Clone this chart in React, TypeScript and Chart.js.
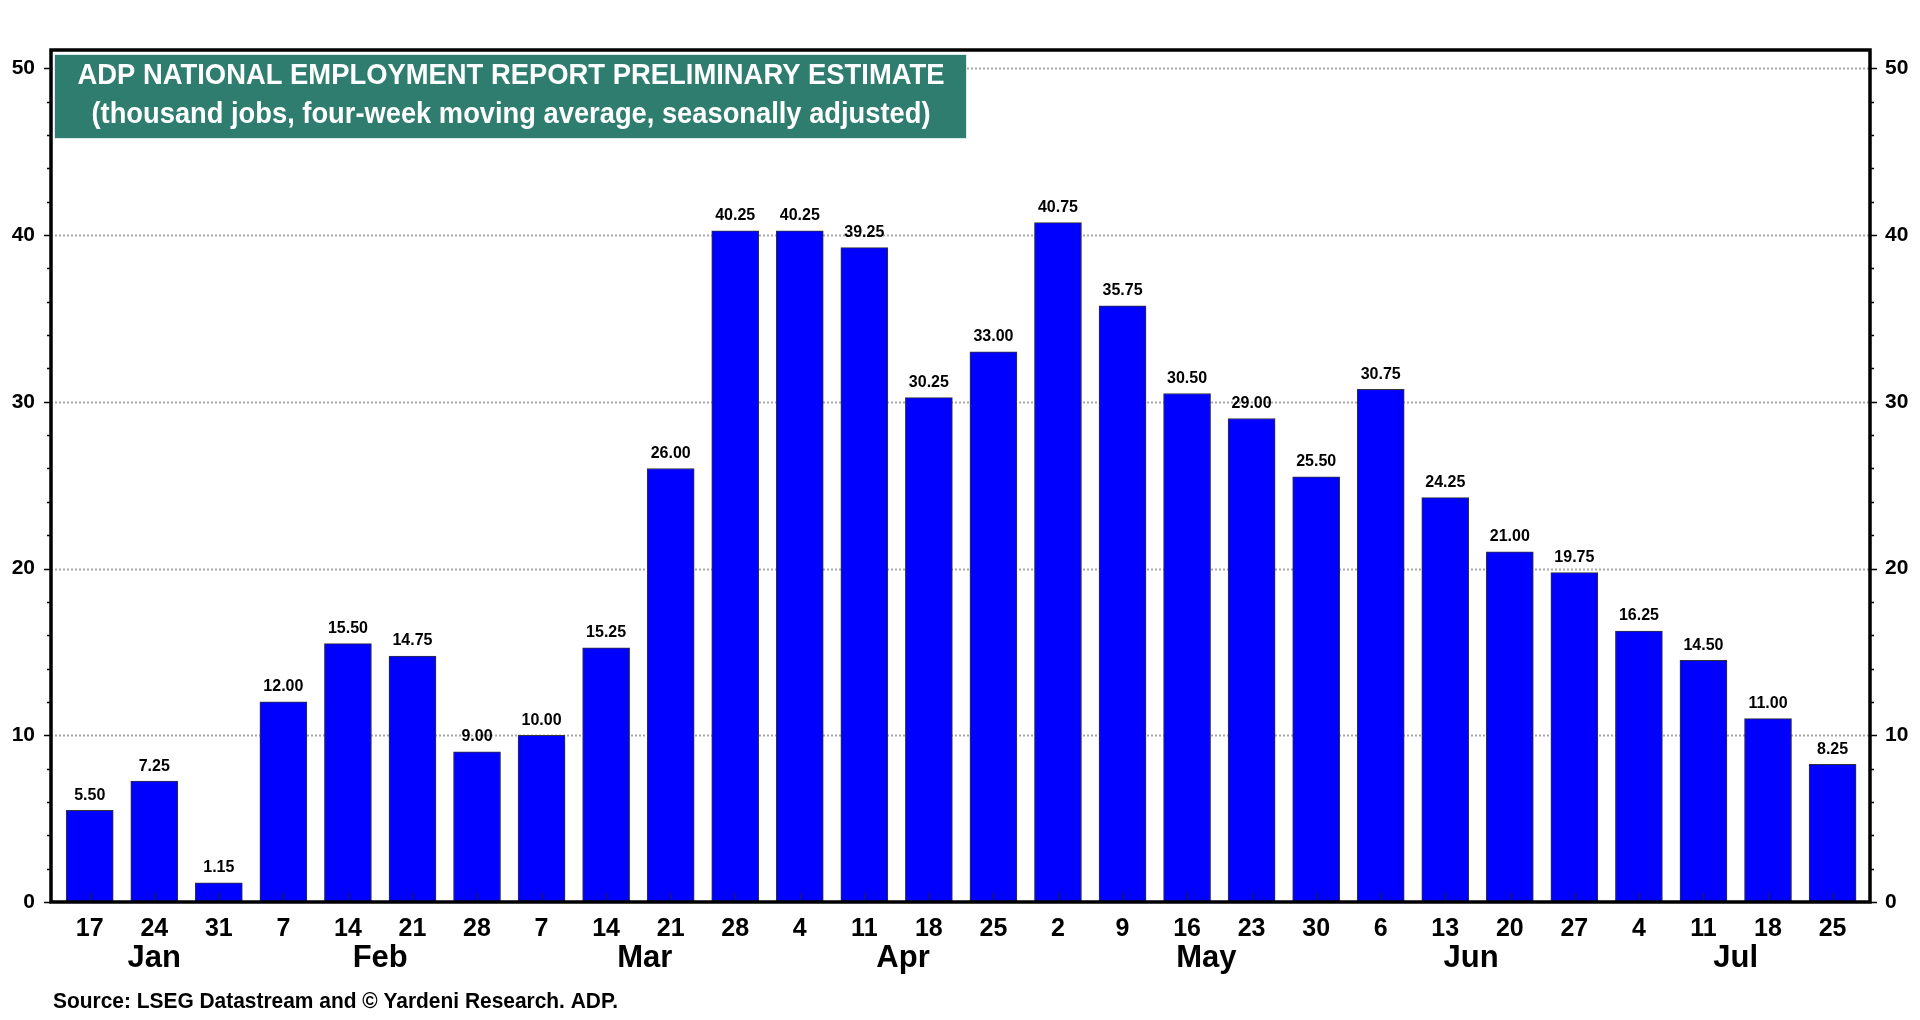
import React, { useEffect, useRef } from 'react';
import { Chart, registerables } from 'chart.js';

Chart.register(...registerables);

const days = ['17', '24', '31', '7', '14', '21', '28', '7', '14', '21', '28', '4', '11', '18', '25', '2', '9', '16', '23', '30', '6', '13', '20', '27', '4', '11', '18', '25'];
const values = [5.5, 7.25, 1.15, 12.0, 15.5, 14.75, 9.0, 10.0, 15.25, 26.0, 40.25, 40.25, 39.25, 30.25, 33.0, 40.75, 35.75, 30.5, 29.0, 25.5, 30.75, 24.25, 21.0, 19.75, 16.25, 14.5, 11.0, 8.25];
const months = ['Jan', 'Feb', 'Mar', 'Apr', 'May', 'Jun', 'Jul'];
const monthAnchors = [1, 4.5, 8.6, 12.6, 17.3, 21.4, 25.5];
const yTicks = [0, 10, 20, 30, 40, 50];
const titleLines = [
  'ADP NATIONAL EMPLOYMENT REPORT PRELIMINARY ESTIMATE',
  '(thousand jobs, four-week moving average, seasonally adjusted)',
];
const sourceText = 'Source: LSEG Datastream and \u00A9 Yardeni Research. ADP.';

const NARROW = '"Liberation Sans Narrow", "Arial Narrow", "Liberation Sans", Arial, sans-serif';
const WIDE = '"Liberation Sans", Arial, sans-serif';

function drawFitted(ctx: CanvasRenderingContext2D, text: string, x: number, y: number, w: number, font: string, align: 'center' | 'left') {
  ctx.save();
  ctx.font = font;
  const m = ctx.measureText(text).width;
  const s = w / m;
  ctx.translate(x, y);
  ctx.scale(s, 1);
  ctx.textAlign = align;
  ctx.textBaseline = 'middle';
  ctx.fillText(text, 0, 0);
  ctx.restore();
}

const decorPlugin = {
  id: 'decor',
  beforeDatasetsDraw(chart: any) {
    const { ctx, chartArea: a } = chart;
    const y = chart.scales.y;
    ctx.save();
    ctx.strokeStyle = '#a8a8a8';
    ctx.lineWidth = 2;
    ctx.setLineDash([2, 2]);
    for (const v of yTicks) {
      if (v === 0) continue;
      const py = Math.round(y.getPixelForValue(v)) + 0.5;
      ctx.beginPath();
      ctx.moveTo(a.left, py);
      ctx.lineTo(a.right, py);
      ctx.stroke();
    }
    ctx.restore();
  },
  afterDatasetsDraw(chart: any) {
    const { ctx, chartArea: a } = chart;
    const x = chart.scales.x;
    const y = chart.scales.y;
    ctx.save();
    // inner x ticks
    ctx.strokeStyle = '#222';
    ctx.lineWidth = 1;
    days.forEach((_, i) => {
      const px = Math.round(x.getPixelForValue(i)) + 0.5;
      ctx.beginPath();
      ctx.moveTo(px, a.bottom);
      ctx.lineTo(px, a.bottom - 9);
      ctx.stroke();
    });
    // data labels
    const meta = chart.getDatasetMeta(0);
    ctx.fillStyle = '#000';
    ctx.font = `bold 16px ${NARROW}`;
    ctx.textAlign = 'center';
    ctx.textBaseline = 'middle';
    meta.data.forEach((bar: any, i: number) => {
      ctx.fillText(values[i].toFixed(2), bar.x, bar.y - 15);
    });
    // y minor/major ticks outside
    ctx.strokeStyle = '#000';
    ctx.lineWidth = 1.5;
    for (let v = 0; v <= 50; v += 2) {
      const len = v % 10 === 0 ? 7 : 4;
      const py = Math.round(y.getPixelForValue(v)) + 0.5;
      ctx.beginPath();
      ctx.moveTo(a.left - len, py);
      ctx.lineTo(a.left, py);
      ctx.moveTo(a.right, py);
      ctx.lineTo(a.right + len, py);
      ctx.stroke();
    }
    // frame
    ctx.lineWidth = 3.5;
    ctx.strokeStyle = '#000';
    ctx.strokeRect(a.left, a.top, a.right - a.left, a.bottom - a.top);
    // month labels
    ctx.fillStyle = '#000';
    ctx.font = `bold 31px ${NARROW}`;
    ctx.textAlign = 'center';
    ctx.textBaseline = 'middle';
    months.forEach((m, i) => {
      ctx.fillText(m, x.getPixelForValue(monthAnchors[i]), a.bottom + 56);
    });
    // title box
    ctx.fillStyle = '#2E7D6F';
    ctx.fillRect(54, 54, 913, 85);
    ctx.strokeStyle = '#d8ebe6';
    ctx.lineWidth = 1;
    ctx.strokeRect(54.5, 54.5, 912, 84);
    ctx.fillStyle = '#ffffff';
    drawFitted(ctx, titleLines[0], 511, 76, 867, `bold 30px ${WIDE}`, 'center');
    drawFitted(ctx, titleLines[1], 511, 115, 839, `bold 30px ${WIDE}`, 'center');
    // source
    ctx.fillStyle = '#000';
    drawFitted(ctx, sourceText, 53, 1002, 565, `bold 22px ${WIDE}`, 'left');
    ctx.restore();
  },
};

export default function App() {
  const ref = useRef<HTMLCanvasElement | null>(null);
  useEffect(() => {
    if (!ref.current) return;
    const chart = new Chart(ref.current, {
      type: 'bar',
      data: {
        datasets: [
          {
            data: values.map((v, i) => ({ x: i, y: v })),
            backgroundColor: '#0000FF',
            borderColor: '#333333',
            borderWidth: 1,
            barThickness: 47,
          },
        ],
      },
      options: {
        animation: false,
        responsive: false,
        devicePixelRatio: 1,
        layout: { padding: { top: 50, left: 0, right: 0, bottom: 0 } },
        plugins: { legend: { display: false }, tooltip: { enabled: false }, title: { display: false } },
        scales: {
          x: {
            type: 'linear',
            min: -0.6,
            max: 27.58,
            offset: false,
            grid: { display: false, drawTicks: false },
            border: { display: false },
            afterBuildTicks: (s: any) => {
              s.ticks = days.map((_, i) => ({ value: i }));
            },
            afterFit: (s: any) => {
              s.height = 118;
            },
            ticks: {
              autoSkip: false,
              maxRotation: 0,
              minRotation: 0,
              padding: 12,
              color: '#000',
              font: { family: NARROW, size: 25, weight: 'bold' },
              callback: (_v: any, i: number) => days[i],
            },
          },
          y: {
            type: 'linear',
            position: 'left',
            min: 0,
            max: 51.1,
            grid: { display: false, drawTicks: false },
            border: { display: false },
            afterBuildTicks: (s: any) => {
              s.ticks = yTicks.map((v) => ({ value: v }));
            },
            afterFit: (s: any) => {
              s.width = 51;
            },
            ticks: {
              padding: 16,
              color: '#000',
              font: { family: NARROW, size: 21, weight: 'bold' },
              callback: (v: any) => String(v),
            },
          },
          y2: {
            type: 'linear',
            position: 'right',
            min: 0,
            max: 51.1,
            grid: { display: false, drawTicks: false },
            border: { display: false },
            afterBuildTicks: (s: any) => {
              s.ticks = yTicks.map((v) => ({ value: v }));
            },
            afterFit: (s: any) => {
              s.width = 50;
            },
            ticks: {
              padding: 15,
              color: '#000',
              font: { family: NARROW, size: 21, weight: 'bold' },
              callback: (v: any) => String(v),
            },
          },
        },
      } as any,
      plugins: [decorPlugin],
    });
    return () => chart.destroy();
  }, []);
  return (
    <div style={{ position: 'fixed', left: 0, top: 0, width: 1920, height: 1020, background: '#fff' }}>
      <canvas ref={ref} width={1920} height={1020} style={{ display: 'block', width: 1920, height: 1020 }} />
    </div>
  );
}
